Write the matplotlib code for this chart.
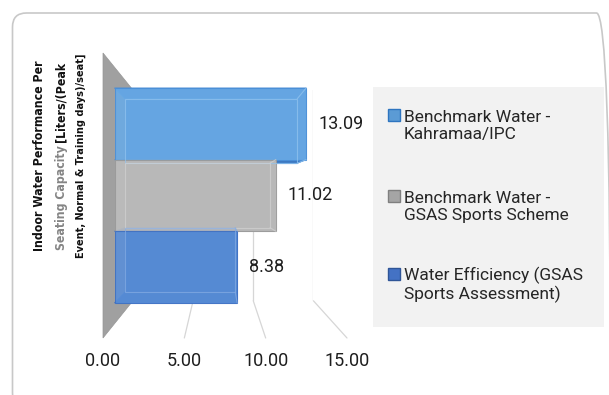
import numpy as np
import matplotlib.pyplot as plt
from matplotlib import font_manager as fm
from matplotlib.patches import Polygon, Rectangle, FancyBboxPatch, ConnectionPatch
from matplotlib.transforms import IdentityTransform

# data
series = ['Benchmark Water -\nKahramaa/IPC',
          'Benchmark Water -\nGSAS Sports Scheme',
          'Water Efficiency (GSAS\nSports Assessment)']
values = [13.09, 11.02, 8.38]
ticks = [0, 5, 10, 15]
tick_labels = ['0.00', '5.00', '10.00', '15.00']

front_col = ['#6aabe6', '#bebebe', '#5a8fd8']
edge_col = ['#4a8fd8', '#9a9a9a', '#3d70c4']
side_col = ['#3c78c0', '#8a8a8a', '#2f60b0']
glass_col = ['#94c4ee', '#d2d2d2', '#86ace2']
key_col = ['#5b9bd5', '#a5a5a5', '#4472c4']
key_edge = ['#2e75c0', '#7f7f7f', '#2f5597']

W, H = 609, 395
fig = plt.figure(figsize=(W / 100, H / 100), dpi=100)

# fake 3d: every depth plane is the floor box shrunk towards the vanishing point
vx, vy = 218, 195
floor = (103, 53, 347, 338)
YLO, YHI = -0.79, 2.79


def plane(s, z, off=True):
    x0 = vx + (floor[0] - vx) * s
    x1 = vx + (floor[2] - vx) * s
    y0 = vy + (floor[1] - vy) * s
    y1 = vy + (floor[3] - vy) * s
    ax = fig.add_axes([x0 / W, 1 - y1 / H, (x1 - x0) / W, (y1 - y0) / H], zorder=z)
    ax.set_xlim(0, 15)
    ax.set_ylim(YHI, YLO)
    ax.patch.set_visible(False)
    if off:
        ax.axis('off')
    return ax


def fpt(ax, x, y):
    return fig.transFigure.inverted().transform(ax.transData.transform((x, y)))


ax_floor = plane(1.0, 5, off=False)
ax_wall = plane(0.74, 1)
ax_back = plane(0.81, 2)
ax_front = plane(0.90, 3)
ax_glass = plane(0.81, 3.5)

# outer rounded frame
frame = FancyBboxPatch((12.5, -12), 598, 394, boxstyle='round,pad=0,rounding_size=14',
                       transform=IdentityTransform(), fc='none', ec='#c8c8c8', lw=1.2, zorder=0.5)
fig.add_artist(frame)

# side wall
wall = Polygon([fpt(ax_floor, 0, YLO), fpt(ax_floor, 0, YHI),
                fpt(ax_wall, 0, YHI), fpt(ax_wall, 0, YLO)],
               transform=fig.transFigure, fc='#a0a0a0', ec='#969696', lw=0.5, zorder=1.5)
fig.add_artist(wall)

# gridlines on the back wall and down the floor
for t in ticks[1:]:
    ax_wall.axvline(t, color='#d6d6d6', lw=0.9)
    cp = ConnectionPatch((t, YHI), (t, YHI), coordsA=ax_wall.transData, coordsB=ax_floor.transData,
                         color='#d6d6d6', lw=0.9, zorder=1.2)
    fig.add_artist(cp)

# bar back faces, then side faces, then translucent front faces
ypos = np.arange(len(values))
ax_back.barh(ypos, values, height=1.0, color=side_col, edgecolor=edge_col, lw=0.8)
for i, v in enumerate(values):
    for yy in (i - 0.5, i + 0.5):
        f = Polygon([fpt(ax_front, 0, yy), fpt(ax_front, v, yy),
                     fpt(ax_back, v, yy), fpt(ax_back, 0, yy)],
                    transform=fig.transFigure, fc=side_col[i], ec=edge_col[i], lw=0.6, zorder=2.5)
        fig.add_artist(f)
    f = Polygon([fpt(ax_front, v, i - 0.5), fpt(ax_front, v, i + 0.5),
                 fpt(ax_back, v, i + 0.5), fpt(ax_back, v, i - 0.5)],
                transform=fig.transFigure, fc=side_col[i], ec=edge_col[i], lw=0.6, zorder=2.5)
    fig.add_artist(f)

ax_front.barh(ypos, values, height=1.0, color=front_col, edgecolor=edge_col, lw=0.8, alpha=0.9)

# faint back edges seen through the glassy bars
ax_glass.barh(ypos, values, height=1.0, fill=False, edgecolor=glass_col, lw=0.8, alpha=0.7)
for i, v in enumerate(values):
    for yy in (i - 0.5, i + 0.5):
        cp = ConnectionPatch((v, yy), (v, yy), coordsA=ax_front.transData, coordsB=ax_glass.transData,
                             color=glass_col[i], lw=0.8, alpha=0.7, zorder=3.6)
        fig.add_artist(cp)

for i, v in enumerate(values):
    ax_front.annotate(f'{v:.2f}', (v, i), xytext=(8.6, 0), textcoords='offset points',
                      ha='left', va='center', fontsize=13, family='Roboto', color='#1e1e1e')

# value axis labels along the front of the floor
for sp in ax_floor.spines.values():
    sp.set_visible(False)
ax_floor.set_yticks([])
ax_floor.set_xticks(ticks)
ax_floor.set_xticklabels(tick_labels, fontsize=13, family='Roboto', color='#1e1e1e')
ax_floor.tick_params(axis='x', length=0, pad=10)

# axis title, three rotated lines; condensed bold if the system has it
cond = fm.FontProperties(family='DejaVu Sans', weight='bold', stretch='condensed')
if 'Condensed' in fm.findfont(cond):
    lab = dict(rotation=90, ha='center', va='center', fontweight='bold',
               family='DejaVu Sans', fontstretch='condensed')
    s1, s3 = 8.8, 7.8
else:
    lab = dict(rotation=90, ha='center', va='center', fontweight='bold', family='Lato')
    s1, s3 = 10.3, 9.0
fig.text(40 / W, 1 - 156 / H, 'Indoor Water Performance Per', fontsize=s1, color='#111111', **lab)
full = fig.text(61 / W, 1 - 156 / H, 'Seating Capacity [Liters/(Peak', fontsize=s1, alpha=0, **lab)
bb = full.get_window_extent(fig.canvas.get_renderer())
full.remove()
lab2 = dict(lab)
lab2.pop('va')
fig.text(61 / W, bb.y0 / H, 'Seating Capacity', fontsize=s1, va='bottom', color='#858585', **lab2)
fig.text(61 / W, bb.y1 / H, '[Liters/(Peak', fontsize=s1, va='top', color='#111111', **lab2)
fig.text(81 / W, 1 - 156 / H, 'Event, Normal & Training days)/seat]', fontsize=s3, color='#111111', **lab)

# legend panel
lg = fig.add_axes([373 / W, 1 - 327 / H, 231 / W, 240 / H], zorder=4)
lg.set_xlim(373, 604)
lg.set_ylim(327, 87)
lg.set_facecolor('#f2f2f2')
for sp in lg.spines.values():
    sp.set_visible(False)
lg.set_xticks([])
lg.set_yticks([])
rows = [115, 196, 274]
for name, y, c, e in zip(series, rows, key_col, key_edge):
    lg.add_patch(Rectangle((388, y - 6), 12, 12, fc=c, ec=e, lw=1))
    lg.text(404, y + 11, name, ha='left', va='center', fontsize=12.5, family='Roboto',
            color='#262626', linespacing=1.12)

fig.savefig('out.png', dpi=100)
